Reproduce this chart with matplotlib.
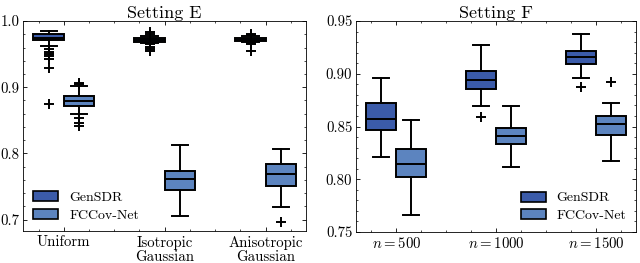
import matplotlib
matplotlib.use("Agg")
import matplotlib.pyplot as plt
from matplotlib.patches import Patch
from matplotlib.ticker import MultipleLocator, AutoMinorLocator, FormatStrFormatter

plt.rcParams['font.family'] = ['cmr10', 'DejaVu Serif']
plt.rcParams['mathtext.fontset'] = 'cm'
plt.rcParams['axes.formatter.use_mathtext'] = True

# Setting E
cats_e = ['Uniform', 'Isotropic\nGaussian', 'Anisotropic\nGaussian']
gen_e = [
    dict(whislo=0.962, q1=0.971, med=0.975, q3=0.980, whishi=0.985,
         fliers=[0.957, 0.953, 0.950, 0.947, 0.942, 0.929, 0.874]),
    dict(whislo=0.967, q1=0.969, med=0.972, q3=0.974, whishi=0.978,
         fliers=[0.984, 0.981, 0.965, 0.961, 0.957, 0.954]),
    dict(whislo=0.969, q1=0.970, med=0.972, q3=0.974, whishi=0.977,
         fliers=[0.981, 0.979, 0.967, 0.965, 0.954]),
]
fcc_e = [
    dict(whislo=0.859, q1=0.872, med=0.879, q3=0.886, whishi=0.902,
         fliers=[0.907, 0.905, 0.853, 0.846, 0.841]),
    dict(whislo=0.706, q1=0.744, med=0.761, q3=0.773, whishi=0.812, fliers=[]),
    dict(whislo=0.719, q1=0.751, med=0.769, q3=0.784, whishi=0.806, fliers=[0.697]),
]

# Setting F
cats_f = ['$n = 500$', '$n = 1000$', '$n = 1500$']
gen_f = [
    dict(whislo=0.821, q1=0.847, med=0.857, q3=0.872, whishi=0.896, fliers=[]),
    dict(whislo=0.869, q1=0.886, med=0.894, q3=0.903, whishi=0.927, fliers=[0.859]),
    dict(whislo=0.896, q1=0.909, med=0.916, q3=0.922, whishi=0.938, fliers=[0.887]),
]
fcc_f = [
    dict(whislo=0.766, q1=0.802, med=0.814, q3=0.829, whishi=0.856, fliers=[]),
    dict(whislo=0.812, q1=0.833, med=0.841, q3=0.849, whishi=0.869, fliers=[]),
    dict(whislo=0.817, q1=0.842, med=0.852, q3=0.860, whishi=0.872, fliers=[0.892]),
]

labels = ['GenSDR', 'FCCov-Net']
colors = ['#3b5ba9', '#5c84bf']


def draw(ax, cats, series, title, ylim, ymajor, fmt, legend_loc):
    lw = 1.4
    for k, (stats, c) in enumerate(zip(series, colors)):
        pos = [i + (k - 0.5) * 0.3 for i in range(len(cats))]
        ax.bxp(stats, positions=pos, widths=0.3, capwidths=0.16, patch_artist=True,
               boxprops=dict(facecolor=c, edgecolor='black', linewidth=lw),
               medianprops=dict(color='black', linewidth=lw),
               whiskerprops=dict(color='black', linewidth=lw),
               capprops=dict(color='black', linewidth=lw),
               flierprops=dict(marker='+', markeredgecolor='black', markersize=6.5,
                               markeredgewidth=1.4))
    ax.set_xlim(-0.4, 2.4)
    ax.set_ylim(*ylim)
    ax.set_xticks(range(len(cats)))
    ax.set_xticklabels(cats, fontsize=10.7, linespacing=1.1)
    ax.xaxis.set_minor_locator(MultipleLocator(0.25))
    ax.yaxis.set_major_locator(MultipleLocator(ymajor))
    ax.yaxis.set_minor_locator(AutoMinorLocator(5))
    ax.yaxis.set_major_formatter(FormatStrFormatter(fmt))
    ax.tick_params(which='both', direction='in', top=True, right=True, labelsize=10.7)
    ax.tick_params(which='major', length=3, width=0.6)
    ax.tick_params(which='minor', length=1.5, width=0.5)
    ax.tick_params(axis='x', which='major', pad=3)
    ax.tick_params(axis='y', which='major', pad=3)
    for s in ax.spines.values():
        s.set_linewidth(0.6)
    ax.set_title(title, fontsize=13, pad=2)
    handles = [Patch(facecolor=c, edgecolor='black', linewidth=1.2, label=l)
               for c, l in zip(colors, labels)]
    ax.legend(handles=handles, loc=legend_loc, frameon=False, fontsize=10,
              handlelength=1.8, handleheight=0.75, labelspacing=0.35,
              handletextpad=0.8, borderaxespad=0.3)


fig = plt.figure(figsize=(6.4, 2.63), dpi=100)
ax1 = fig.add_axes([0.0365, 0.12, 0.4417, 0.80])
ax2 = fig.add_axes([0.557, 0.118, 0.437, 0.802])

draw(ax1, cats_e, [gen_e, fcc_e], 'Setting E', (0.682, 1.0), 0.1, '%.1f', 'lower left')
draw(ax2, cats_f, [gen_f, fcc_f], 'Setting F', (0.75, 0.95), 0.05, '%.2f', 'lower right')

fig.savefig('out.png', dpi=100)
